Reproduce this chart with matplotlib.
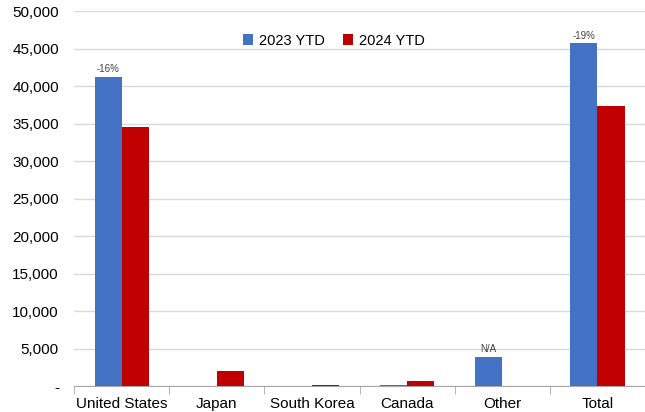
import numpy as np
import matplotlib.pyplot as plt
from matplotlib.ticker import FuncFormatter, FixedLocator

plt.rcParams['font.family'] = ['DejaVu Sans Condensed', 'Liberation Sans', 'DejaVu Sans']

regions = ["United States", "Japan", "South Korea", "Canada", "Other", "Total"]
ytd_2023 = [41200, 0, 0, 100, 3900, 45700]
ytd_2024 = [34600, 2000, 150, 650, 0, 37300]
changes = ["-16%", "", "", "", "N/A", "-19%"]

fig = plt.figure(figsize=(6.45, 4.12), dpi=100)
ax = fig.add_axes([0.115, 0.063, 0.885, 0.91])

x = np.arange(len(regions))
w = 0.285
ax.bar(x - w / 2, ytd_2023, w, color='#4472C4', label='2023 YTD', zorder=3)
ax.bar(x + w / 2, ytd_2024, w, color='#C00000', label='2024 YTD', zorder=3)

# percent change labels over the 2023 bars
for i, txt in enumerate(changes):
    if txt:
        ax.text(x[i] - w / 2, ytd_2023[i] + 350, txt, ha='center', va='bottom',
                fontsize=7, color='#404040')

ax.set_xlim(-0.5, len(regions) - 0.5)
ax.set_ylim(0, 50000)
ax.set_yticks(np.arange(0, 50001, 5000))
ax.yaxis.set_major_formatter(FuncFormatter(lambda v, p: '-' if v == 0 else f'{int(v):,}'))
ax.grid(axis='y', color='#D9D9D9', linewidth=1, zorder=0)

ax.set_xticks(x)
ax.set_xticklabels(regions)
ax.xaxis.set_minor_locator(FixedLocator(np.arange(-0.5, len(regions), 1.0)))
ax.tick_params(axis='x', which='major', length=0, pad=8, labelsize=11)
ax.tick_params(axis='x', which='minor', length=6, color='#A6A6A6')
ax.tick_params(axis='y', length=0, labelsize=11, pad=11)

for s in ['top', 'right', 'left']:
    ax.spines[s].set_visible(False)
ax.spines['bottom'].set_color('#A6A6A6')

ax.legend(loc='upper center', bbox_to_anchor=(0.455, 0.975), ncol=2, frameon=False,
          fontsize=10.5, handlelength=0.7, handleheight=0.7, columnspacing=1.2,
          handletextpad=0.4)

fig.savefig('out.png', dpi=100)
